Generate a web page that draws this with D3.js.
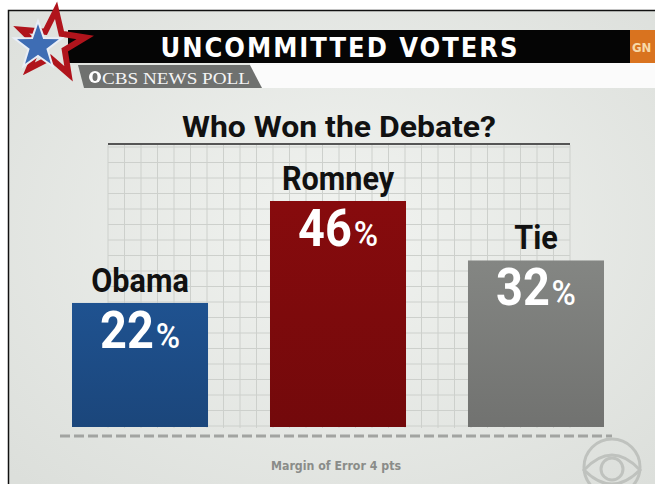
<!DOCTYPE html>
<html>
<head>
<meta charset="utf-8">
<script src="https://cdn.jsdelivr.net/npm/d3@7"></script>
<style>
  html, body { margin: 0; padding: 0; background: #fff; }
  svg { display: block; }
</style>
</head>
<body>
<svg id="chart" width="655" height="484"></svg>
<script>
const candidates = ['Obama', 'Romney', 'Tie'];
const shares = [22, 46, 32];
const barColors = ['#1d4c86', '#7e0a0c', '#7b7d7a'];
const chartTitle = 'Who Won the Debate?';
const headerTitle = 'UNCOMMITTED VOTERS';
const pollLabel = 'CBS NEWS POLL';
const footNote = 'Margin of Error 4 pts';

const svg = d3.select('#chart');
const sans = 'Roboto, "Liberation Sans", sans-serif';
const narrow = '"DejaVu Sans Condensed", "Liberation Sans Narrow", Roboto, sans-serif';

const defs = svg.append('defs');
const bg = defs.append('radialGradient').attr('id', 'bg').attr('cx', '50%').attr('cy', '45%').attr('r', '70%');
bg.append('stop').attr('offset', '0%').attr('stop-color', '#f1f3f0');
bg.append('stop').attr('offset', '100%').attr('stop-color', '#dcdfdb');

barColors.forEach((c, i) => {
	const g = defs.append('linearGradient').attr('id', 'bar' + i).attr('x1', 0).attr('x2', 0).attr('y1', 0).attr('y2', 1);
	g.append('stop').attr('offset', '0%').attr('stop-color', d3.color(c).brighter(0.2));
	g.append('stop').attr('offset', '100%').attr('stop-color', d3.color(c).darker(0.25));
});

// frame + background
svg.append('rect').attr('x', 8.5).attr('y', 10.5).attr('width', 660).attr('height', 490)
	.attr('fill', 'url(#bg)').attr('stroke', '#111').attr('stroke-width', 1.5);

// header bar
svg.append('rect').attr('x', 68).attr('y', 30).attr('width', 565).attr('height', 33).attr('fill', '#050505');
svg.append('rect').attr('x', 630).attr('y', 30).attr('width', 40).attr('height', 33).attr('fill', '#d9731f');
svg.append('text').attr('x', 632).attr('y', 52).attr('fill', '#f7d9a8')
	.attr('font-family', narrow).attr('font-weight', 'bold').attr('font-size', 13).text('GN');
svg.append('text').attr('x', 339).attr('y', 57).attr('text-anchor', 'middle').attr('fill', '#fff')
	.attr('font-family', narrow).attr('font-weight', 'bold').attr('font-size', 27)
	.attr('textLength', 357).attr('lengthAdjust', 'spacing').text(headerTitle);

// poll tab
svg.append('rect').attr('x', 250).attr('y', 63).attr('width', 420).attr('height', 25).attr('fill', '#fbfbfb');
svg.append('path').attr('d', 'M78,65 L250,65 L262,88 L84,88 Z').attr('fill', '#6f716f');
svg.append('circle').attr('cx', 95).attr('cy', 77).attr('r', 6).attr('fill', '#fff');
svg.append('ellipse').attr('cx', 95).attr('cy', 77).attr('rx', 2.5).attr('ry', 4).attr('fill', '#6f716f');
svg.append('text').attr('x', 102).attr('y', 84).attr('fill', '#f4f4f4')
	.attr('font-family', '"Liberation Serif", "DejaVu Serif", serif').attr('font-size', 17)
	.attr('textLength', 148).attr('lengthAdjust', 'spacingAndGlyphs').text(pollLabel);

// star logo
function starPoints(cx, cy, ro, ri, rot) {
	return d3.range(10).map(i => {
		const r = i % 2 ? ri : ro;
		const a = -Math.PI / 2 + rot + i * Math.PI / 5;
		return [cx + r * Math.cos(a), cy + r * Math.sin(a)];
	}).join(' ');
}
const star = svg.append('g');
star.append('polygon').attr('points', starPoints(52, 44, 34, 14, 0.12))
	.attr('fill', 'none').attr('stroke', '#b0141c').attr('stroke-width', 6).attr('stroke-linejoin', 'miter');
star.append('polygon').attr('points', starPoints(38, 46, 25, 10, 0))
	.attr('fill', '#3e6db4').attr('stroke', '#e9eef6').attr('stroke-width', 2);

// chart title
svg.append('text').attr('x', 339).attr('y', 137).attr('text-anchor', 'middle').attr('fill', '#111')
	.attr('font-family', sans).attr('font-weight', 'bold').attr('font-size', 29)
	.attr('textLength', 314).attr('lengthAdjust', 'spacingAndGlyphs').text(chartTitle);
svg.append('line').attr('x1', 108).attr('x2', 570).attr('y1', 144).attr('y2', 144)
	.attr('stroke', '#555').attr('stroke-width', 2);

// scales
const x = d3.scaleBand().domain(candidates).range([72, 604]).paddingInner(0.313).paddingOuter(0);
const y = d3.scaleLinear().domain([-7.2, 46]).range([427, 201]);

// grid
const gx = d3.range(108, 571, 16.5);
const gy = d3.range(147, 430, 15.5);
const grid = svg.append('g').attr('stroke', '#cdd0cc').attr('stroke-width', 1);
grid.selectAll('line.v').data(gx).join('line').attr('class', 'v')
	.attr('x1', d => d).attr('x2', d => d).attr('y1', 145).attr('y2', 428);
grid.selectAll('line.h').data(gy).join('line').attr('class', 'h')
	.attr('x1', 108).attr('x2', 570).attr('y1', d => d).attr('y2', d => d);

// bars
const data = candidates.map((c, i) => ({ name: c, value: shares[i], i }));
const bars = svg.append('g').selectAll('g').data(data).join('g');
bars.append('rect')
	.attr('x', d => x(d.name)).attr('width', x.bandwidth())
	.attr('y', d => y(d.value)).attr('height', d => y.range()[0] - y(d.value))
	.attr('fill', d => 'url(#bar' + d.i + ')');

const cx = d => x(d.name) + x.bandwidth() / 2;

bars.append('text')
	.attr('transform', d => `translate(${cx(d)},${y(d.value) - 11}) scale(0.9,1)`)
	.attr('text-anchor', 'middle').attr('fill', '#111')
	.attr('font-family', sans).attr('font-weight', 'bold').attr('font-size', 34)
	.text(d => d.name);

const pct = bars.append('text')
	.attr('transform', d => `translate(${cx(d)},${y(d.value) + 45}) scale(0.92,1)`)
	.attr('text-anchor', 'middle').attr('fill', '#fff')
	.attr('font-family', sans).attr('font-weight', 'bold');
pct.append('tspan').attr('font-size', 51).text(d => d.value);
pct.append('tspan').attr('font-size', 36).attr('font-weight', 500).attr('dx', 2).text('%');

// dashed baseline
svg.append('line').attr('x1', 60).attr('x2', 612).attr('y1', 436).attr('y2', 436)
	.attr('stroke', '#a2a4a1').attr('stroke-width', 3).attr('stroke-dasharray', '10,4');

// footnote
svg.append('text').attr('x', 336).attr('y', 470).attr('text-anchor', 'middle').attr('fill', '#8a8c89')
	.attr('font-family', narrow).attr('font-weight', 'bold').attr('font-size', 12)
	.attr('textLength', 130).attr('lengthAdjust', 'spacingAndGlyphs').text(footNote);

// cbs eye watermark
const eye = svg.append('g').attr('fill', 'none').attr('stroke', '#bfc2be').attr('stroke-width', 3);
eye.append('circle').attr('cx', 612).attr('cy', 467).attr('r', 28);
eye.append('path').attr('d', 'M584,470 Q612,440 640,470 Q612,498 584,470 Z');
eye.append('circle').attr('cx', 612).attr('cy', 469).attr('r', 11);
</script>
</body>
</html>
